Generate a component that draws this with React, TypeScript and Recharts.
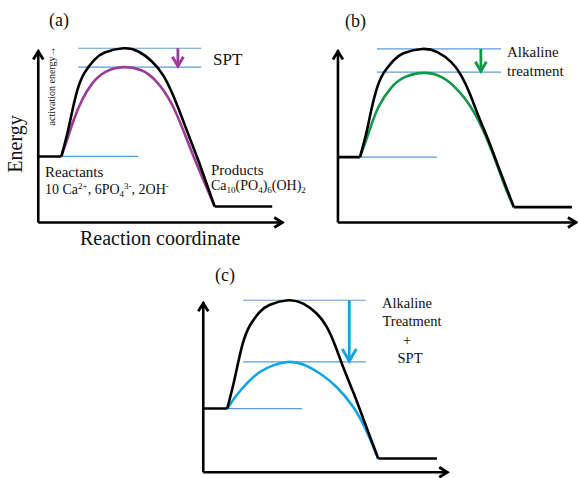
import { LineChart, Line, XAxis, YAxis, ReferenceLine, ReferenceDot } from "recharts";

type Pt = { x: number; y: number };

// panel (a): SPT
const reactA: Pt[] = [{ x: 0, y: 3.84 }, { x: 0.94, y: 3.84 }];
const plainA: Pt[] = [
  { x: 0.94, y: 3.84 }, { x: 1.19, y: 5.19 }, { x: 1.4, y: 6.55 }, { x: 1.6, y: 7.71 },
  { x: 1.88, y: 8.68 }, { x: 2.29, y: 9.45 }, { x: 2.71, y: 9.88 }, { x: 3.47, y: 10.13 },
  { x: 4.09, y: 9.94 }, { x: 4.64, y: 9.36 }, { x: 5.1, y: 8.55 }, { x: 5.49, y: 7.44 },
  { x: 5.84, y: 6.19 }, { x: 6.22, y: 4.77 }, { x: 6.61, y: 3.31 }, { x: 7.2, y: 0.93 },
];
const sptA: Pt[] = [
  { x: 0.94, y: 3.84 }, { x: 1.17, y: 4.77 }, { x: 1.44, y: 5.93 }, { x: 1.78, y: 7.09 },
  { x: 2.19, y: 8.06 }, { x: 2.73, y: 8.74 }, { x: 3.48, y: 9.03 }, { x: 4.23, y: 8.84 },
  { x: 4.78, y: 8.26 }, { x: 5.46, y: 6.86 }, { x: 6.13, y: 4.59 }, { x: 6.68, y: 2.67 },
  { x: 7.2, y: 0.93 },
];
const prodA: Pt[] = [{ x: 7.2, y: 0.93 }, { x: 9.55, y: 0.93 }];
const guidesA = [10.13, 9.03];

// panel (b): alkaline treatment
const reactB: Pt[] = [{ x: 0, y: 3.8 }, { x: 0.92, y: 3.8 }];
const plainB: Pt[] = [
  { x: 0.92, y: 3.8 }, { x: 1.18, y: 5.15 }, { x: 1.39, y: 6.51 }, { x: 1.6, y: 7.67 },
  { x: 1.89, y: 8.64 }, { x: 2.32, y: 9.41 }, { x: 2.74, y: 9.84 }, { x: 3.52, y: 10.09 },
  { x: 4.16, y: 9.9 }, { x: 4.74, y: 9.32 }, { x: 5.16, y: 8.54 }, { x: 5.52, y: 7.48 },
  { x: 5.87, y: 6.22 }, { x: 6.3, y: 4.76 }, { x: 6.72, y: 3.22 }, { x: 7.36, y: 0.89 },
];
const alkB: Pt[] = [
  { x: 0.92, y: 3.8 }, { x: 1.27, y: 5.16 }, { x: 1.69, y: 6.7 }, { x: 2.25, y: 7.87 },
  { x: 2.8, y: 8.45 }, { x: 3.57, y: 8.7 }, { x: 4.34, y: 8.45 }, { x: 5.03, y: 7.67 },
  { x: 5.73, y: 6.32 }, { x: 6.43, y: 4.19 }, { x: 6.99, y: 2.09 }, { x: 7.36, y: 0.89 },
];
const prodB: Pt[] = [{ x: 7.36, y: 0.89 }, { x: 9.79, y: 0.89 }];
const guidesB = [10.09, 8.74];

// panel (c): alkaline treatment + SPT
const reactC: Pt[] = [{ x: 0, y: 3.75 }, { x: 0.98, y: 3.75 }];
const plainC: Pt[] = [
  { x: 0.98, y: 3.75 }, { x: 1.22, y: 5.12 }, { x: 1.43, y: 6.49 }, { x: 1.63, y: 7.66 },
  { x: 1.91, y: 8.65 }, { x: 2.31, y: 9.43 }, { x: 2.72, y: 9.86 }, { x: 3.47, y: 10.12 },
  { x: 4.08, y: 9.92 }, { x: 4.63, y: 9.34 }, { x: 5.04, y: 8.55 }, { x: 5.38, y: 7.47 },
  { x: 5.71, y: 6.19 }, { x: 6.12, y: 4.72 }, { x: 6.53, y: 3.16 }, { x: 7.14, y: 0.81 },
];
const bothC: Pt[] = [
  { x: 0.98, y: 3.75 }, { x: 1.36, y: 4.53 }, { x: 1.77, y: 5.22 }, { x: 2.31, y: 5.9 },
  { x: 2.86, y: 6.29 }, { x: 3.47, y: 6.49 }, { x: 4.08, y: 6.34 }, { x: 4.76, y: 5.81 },
  { x: 5.44, y: 5.02 }, { x: 6.12, y: 3.84 }, { x: 6.67, y: 2.41 }, { x: 7.14, y: 0.81 },
];
const prodC: Pt[] = [{ x: 7.14, y: 0.81 }, { x: 9.54, y: 0.81 }];
const guidesC = [10.12, 6.49];

const GUIDE = "#5B9BD5";
const X0 = -0.5, X1 = 10.5, Y0 = -0.6, Y1 = 10.9;

const chevron = (cx: number, cy: number, dir: "up" | "down" | "right", w: number, h: number, color: string, sw: number) => {
  let d = "";
  if (dir === "up") d = `M${cx - w / 2},${cy + h} L${cx},${cy} L${cx + w / 2},${cy + h}`;
  if (dir === "down") d = `M${cx - w / 2},${cy - h} L${cx},${cy} L${cx + w / 2},${cy - h}`;
  if (dir === "right") d = `M${cx - h},${cy - w / 2} L${cx},${cy} L${cx - h},${cy + w / 2}`;
  return <path d={d} fill="none" stroke={color} strokeWidth={sw} strokeLinejoin="miter" strokeLinecap="butt" />;
};

type PanelProps = {
  ox: number; oy: number; sx: number; sy: number;
  react: Pt[]; plain: Pt[]; treated: Pt[]; prod: Pt[];
  guides: number[]; guideFrom: number; guideTo: number; reactTo: number;
  arrowX: number; color: string; head: number;
};

const Panel = (p: PanelProps) => {
  const w = (X1 - X0) * p.sx;
  const h = (Y1 - Y0) * p.sy;
  const r = p.react[0].y;
  return (
    <div style={{ position: "absolute", left: p.ox + X0 * p.sx, top: p.oy - Y1 * p.sy }}>
      <LineChart width={w} height={h} margin={{ top: 0, right: 0, bottom: 0, left: 0 }}>
        <XAxis type="number" dataKey="x" domain={[X0, X1]} hide allowDataOverflow />
        <YAxis type="number" dataKey="y" domain={[Y0, Y1]} hide allowDataOverflow />
        {p.guides.map((g) => (
          <ReferenceLine key={g} segment={[{ x: p.guideFrom, y: g }, { x: p.guideTo, y: g }]} stroke={GUIDE} strokeWidth={1.2} />
        ))}
        <ReferenceLine segment={[{ x: p.react[1].x, y: r }, { x: p.reactTo, y: r }]} stroke={GUIDE} strokeWidth={1.2} />
        <ReferenceLine segment={[{ x: 0, y: 0 }, { x: 0, y: 10 }]} stroke="#000" strokeWidth={2.6} />
        <ReferenceLine segment={[{ x: 0, y: 0 }, { x: 10, y: 0 }]} stroke="#000" strokeWidth={2.6} />
        <ReferenceDot x={0} y={10} r={1} shape={(s: any) => chevron(s.cx, s.cy + 1, "up", 10, 8, "#000", 2.8)} />
        <ReferenceDot x={10} y={0} r={1} shape={(s: any) => chevron(s.cx - 1, s.cy, "right", 10, 8, "#000", 2.8)} />
        <ReferenceLine segment={[{ x: p.arrowX, y: p.guides[0] }, { x: p.arrowX, y: p.guides[1] }]} stroke={p.color} strokeWidth={2.8} />
        <ReferenceDot x={p.arrowX} y={p.guides[1]} r={1} shape={(s: any) => chevron(s.cx, s.cy - 1, "down", p.head, p.head * 0.85, p.color, 3)} />
        <Line data={p.react} dataKey="y" type="linear" stroke="#000" strokeWidth={2.6} dot={false} isAnimationActive={false} />
        <Line data={p.prod} dataKey="y" type="linear" stroke="#000" strokeWidth={2.6} dot={false} isAnimationActive={false} />
        <Line data={p.treated} dataKey="y" type="natural" stroke={p.color} strokeWidth={2.6} dot={false} isAnimationActive={false} />
        <Line data={p.plain} dataKey="y" type="natural" stroke="#000" strokeWidth={2.6} dot={false} isAnimationActive={false} />
      </LineChart>
    </div>
  );
};

const serif = { fontFamily: "'Liberation Serif', 'Times New Roman', serif" };

export default function App() {
  return (
    <div style={{ position: "absolute", left: 0, top: 0, width: 578, height: 478, background: "#fff", overflow: "hidden" }}>
      <Panel ox={38} oy={222} sx={24.5} sy={17.2} react={reactA} plain={plainA} treated={sptA} prod={prodA}
        guides={guidesA} guideFrom={1.63} guideTo={6.65} reactTo={4.08} arrowX={5.7} color="#9B3B96" head={11} />
      <Panel ox={338} oy={222} sx={23.9} sy={17.2} react={reactB} plain={plainB} treated={alkB} prod={prodB}
        guides={guidesB} guideFrom={1.63} guideTo={6.82} reactTo={4.14} arrowX={5.98} color="#10984A" head={11} />
      <Panel ox={203.3} oy={472} sx={24.5} sy={17.0} react={reactC} plain={plainC} treated={bothC} prod={prodC}
        guides={guidesC} guideFrom={1.63} guideTo={6.63} reactTo={4.02} arrowX={5.96} color="#12A5E3" head={14} />
      <svg width={578} height={478} style={{ position: "absolute", left: 0, top: 0, pointerEvents: "none", ...serif }} fill="#111">
        <text style={serif} x={49} y={26} fontSize={18}>(a)</text>
        <text style={serif} x={345} y={27} fontSize={18}>(b)</text>
        <text style={serif} x={215} y={281} fontSize={18}>(c)</text>

        <text style={serif} transform="translate(22,144) rotate(-90)" textAnchor="middle" fontSize={20}>Energy</text>
        <text style={serif} transform="translate(55,86) rotate(-90)" textAnchor="middle" fontSize={10}>activation energy→</text>
        <text style={serif} x={80} y={245} fontSize={20}>Reaction coordinate</text>

        <text style={serif} x={213} y={65} fontSize={17}>SPT</text>

        <text style={serif} x={45} y={177} fontSize={15}>Reactants</text>
        <text style={serif} x={45} y={194} fontSize={14}>
          10 Ca<tspan dy={-5} fontSize={9}>2+</tspan>
          <tspan dy={5}>, 6PO</tspan>
          <tspan dy={3} fontSize={9}>4</tspan>
          <tspan dy={-8} fontSize={9}>3-</tspan>
          <tspan dy={5}>, 2OH</tspan>
          <tspan dy={-5} fontSize={9}>-</tspan>
        </text>

        <text style={serif} x={211} y={175} fontSize={15}>Products</text>
        <text style={serif} x={211} y={190} fontSize={14}>
          Ca<tspan dy={3} fontSize={9}>10</tspan>
          <tspan dy={-3}>(PO</tspan>
          <tspan dy={3} fontSize={9}>4</tspan>
          <tspan dy={-3}>)</tspan>
          <tspan dy={3} fontSize={9}>6</tspan>
          <tspan dy={-3}>(OH)</tspan>
          <tspan dy={3} fontSize={9}>2</tspan>
        </text>

        <text style={serif} x={507} y={57} fontSize={15}>Alkaline</text>
        <text style={serif} x={507} y={76} fontSize={15}>treatment</text>

        <text style={serif} x={407} y={308} fontSize={14.5} textAnchor="middle">Alkaline</text>
        <text style={serif} x={412} y={326} fontSize={14.5} textAnchor="middle">Treatment</text>
        <text style={serif} x={407} y={345} fontSize={14.5} textAnchor="middle">+</text>
        <text style={serif} x={410} y={363} fontSize={14.5} textAnchor="middle">SPT</text>
      </svg>
    </div>
  );
}
